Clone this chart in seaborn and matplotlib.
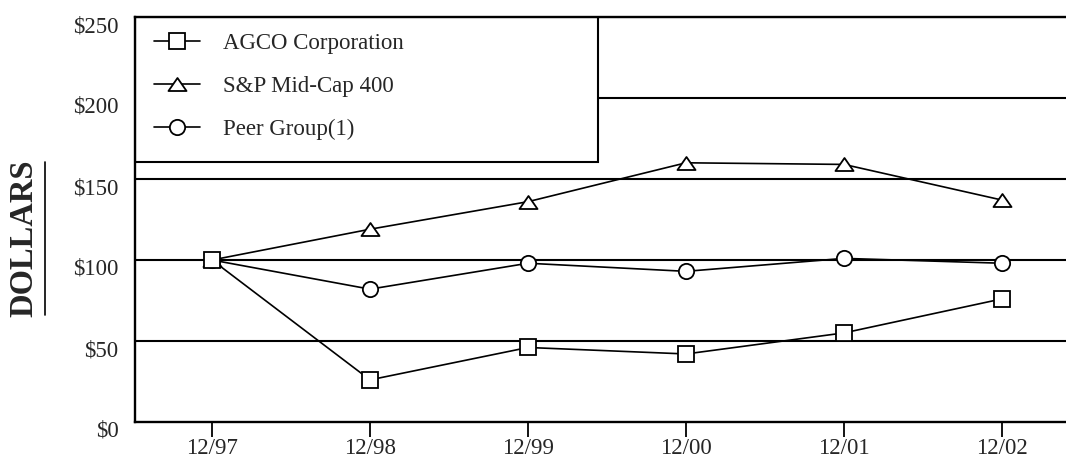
import matplotlib
matplotlib.use("Agg")
import matplotlib.pyplot as plt
import matplotlib.transforms as mtransforms
from matplotlib.patches import Rectangle
from matplotlib.lines import Line2D
from matplotlib.path import Path
import seaborn as sns
import pandas as pd

# data
periods = ["12/97", "12/98", "12/99", "12/00", "12/01", "12/02"]
agco = [100, 26, 46, 42, 55, 76]
midcap = [100, 119, 136, 160, 159, 137]
peer = [100, 82, 98, 93, 101, 98]
series_names = ["AGCO Corporation", "S&P Mid-Cap 400", "Peer Group(1)"]
y_ticks = [0, 50, 100, 150, 200, 250]

sns.set_theme(style="white")
plt.rcParams['font.family'] = ['Liberation Serif', 'DejaVu Serif']

df = pd.DataFrame({
    "x": list(range(len(periods))) * 3,
    "value": agco + midcap + peer,
    "series": [series_names[0]] * 6 + [series_names[1]] * 6 + [series_names[2]] * 6,
})

tri = Path([(-1, -0.72), (1, -0.72), (0, 0.72), (-1, -0.72)],
           [Path.MOVETO, Path.LINETO, Path.LINETO, Path.CLOSEPOLY])
marker_map = {series_names[0]: ("s", 11.5), series_names[1]: (tri, 13), series_names[2]: ("o", 11)}

fig = plt.figure(figsize=(10.66, 4.59), dpi=100)
ax = fig.add_axes([135 / 1066, 37 / 459, 1 - 135 / 1066, 405 / 459])

# draw order: peer, mid-cap, then AGCO on top
for name in [series_names[2], series_names[1], series_names[0]]:
    m, ms = marker_map[name]
    sub = df[df["series"] == name]
    sns.lineplot(data=sub, x="x", y="value", ax=ax, color="black", linewidth=1.2,
                 marker=m, markersize=ms, markerfacecolor="white",
                 markeredgecolor="black", markeredgewidth=1.3, zorder=4)

x0 = (135 - 212) / 158
x1 = (1066 - 212) / 158
ax.set_xlim(x0, x1)
ax.set_ylim(0, 250)

for v in y_ticks[1:]:
    ax.axhline(v, color="black", linewidth=1.5, zorder=1)

# legend box covering the gridlines
box_right = (598 - 212) / 158
ax.add_patch(Rectangle((x0, 160.5), box_right - x0, 250 - 160.5, facecolor="white",
                       edgecolor="black", linewidth=1.5, zorder=2))

handles = []
for name in series_names:
    m, ms = marker_map[name]
    handles.append(Line2D([], [], color="black", linewidth=1.2, marker=m, markersize=ms,
                          markerfacecolor="white", markeredgecolor="black", markeredgewidth=1.3))
leg = ax.legend(handles, series_names, loc="upper left", frameon=False, fontsize=16.5,
                handlelength=2.0, handletextpad=1.0, labelspacing=0.95,
                borderpad=0, borderaxespad=0,
                bbox_to_anchor=(154 / 1066, 1 - 33 / 459), bbox_transform=fig.transFigure)
leg.set_zorder(5)

ax.set_xticks(range(len(periods)))
ax.set_xticklabels(periods)
ax.set_yticks(y_ticks)
ax.set_yticklabels([f"${v}" for v in y_ticks])
ax.tick_params(axis="x", direction="out", length=11, width=1.3, color="black",
               labelsize=16.5, pad=0.5, bottom=True)
ax.tick_params(axis="y", length=0, labelsize=16.5, pad=12, left=True)
ax.set_xlabel("")
ax.set_ylabel("")

# y labels sit a little below their gridlines in the original
shift = mtransforms.ScaledTranslation(0, -7 / 100, fig.dpi_scale_trans)
for lab in ax.get_yticklabels():
    lab.set_transform(lab.get_transform() + shift)

for side in ["left", "bottom", "top"]:
    ax.spines[side].set_visible(True)
    ax.spines[side].set_color("black")
    ax.spines[side].set_linewidth(1.7)
ax.spines["right"].set_visible(False)

fig.text(24 / 1066, 1 - 238 / 459, "DOLLARS", rotation=90, fontsize=23.5, fontweight="bold",
         ha="center", va="center")
fig.add_artist(Line2D([45 / 1066, 45 / 1066], [1 - 162 / 459, 1 - 315 / 459],
                      color="black", linewidth=1.2, transform=fig.transFigure))

fig.savefig("out.png", dpi=100, facecolor="white")
